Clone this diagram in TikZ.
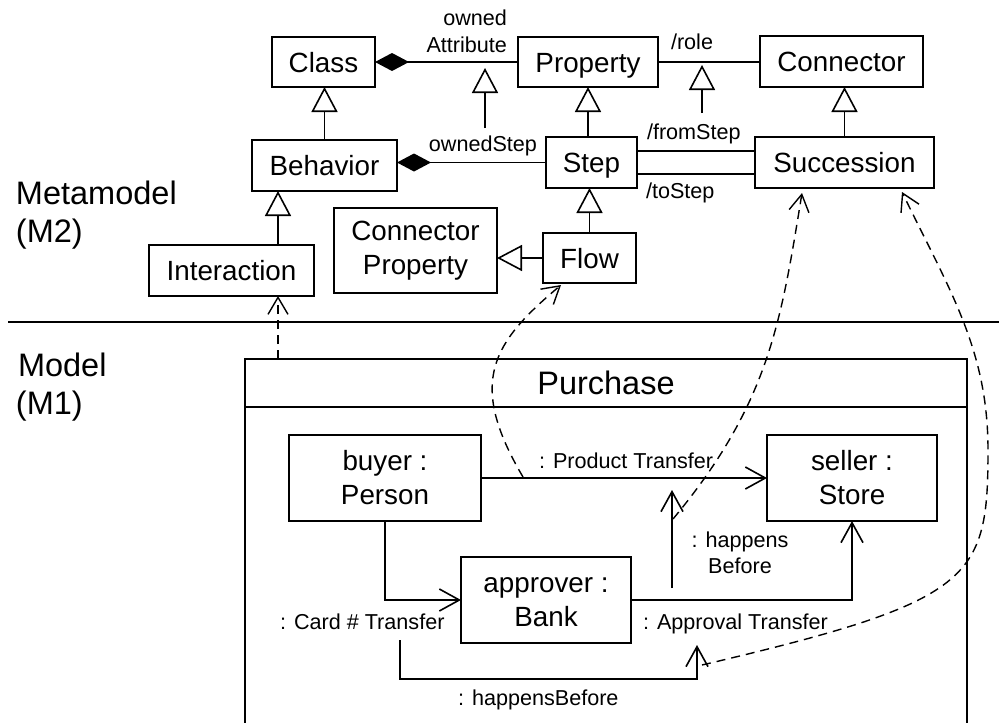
\documentclass[tikz,border=0pt]{standalone}
\usepackage{fontspec}
\setmainfont{Liberation Sans}
\usetikzlibrary{arrows.meta,calc}
\begin{document}
\begin{tikzpicture}[x=1pt,y=-1pt,
  every node/.style={inner sep=0pt, outer sep=0pt},
  cls/.style={draw, line width=1.6pt, font=\fontsize{27.8}{34}\selectfont,
              text height=20pt, text depth=0pt, align=center},
  cls2/.style={draw, line width=1.6pt, font=\fontsize{27.8}{34}\selectfont, align=center},
  lbl/.style={font=\fontsize{21.6}{26}\selectfont},
  big/.style={font=\fontsize{32.5}{38}\selectfont},
  wire/.style={line width=1.6pt},
  gen/.style={wire, -{Triangle[open, length=25pt, width=26pt, line width=1.6pt]}},
  comp/.style={wire, {Diamond[length=34pt, width=18pt]}-},
  nav/.style={wire, -{Straight Barb[length=20pt, width=22pt, line width=1.6pt]}},
  dep/.style={line width=1.4pt, dash pattern=on 9pt off 6pt,
              -{Straight Barb[length=17pt, width=20pt, line width=1.4pt]}},
]
\useasboundingbox (0,0) rectangle (999,723);

% ---------- metamodel classes ----------
\node[cls, minimum width=103, minimum height=50] (class) at (323.5,62) {Class};
\node[cls, minimum width=140, minimum height=50] (prop) at (588,62) {Property};
\node[cls, minimum width=163, minimum height=51] (conn) at (841.5,61.5) {Connector};
\node[cls, minimum width=145, minimum height=51] (behav) at (324.5,165.5) {Behavior};
\node[cls, minimum width=91, minimum height=51] (step) at (591.5,162.5) {Step};
\node[cls, minimum width=179, minimum height=51] (succ) at (844.5,162.5) {Succession};
\node[cls, minimum width=165, minimum height=51] (inter) at (231.5,270.5) {Interaction};
\node[cls2, minimum width=163, minimum height=85] (cprop) at (415.5,250.5) {\rule{0pt}{20pt}Connector\\Property};
\node[cls, minimum width=93, minimum height=50] (flow) at (589.5,258) {Flow};

% helper levels
\coordinate (yA) at (0,151);
\coordinate (yB) at (0,174);
\coordinate (gI) at (278,0);

% associations
\draw[comp] (class.east) -- (class.east -| prop.west);
\draw[wire] (prop.east) -- (prop.east -| conn.west);
\draw[comp] (behav.east |- step.west) -- (step.west);
\draw[wire] (step.east |- yA) -- (succ.west |- yA);
\draw[wire] (step.east |- yB) -- (succ.west |- yB);

% generalizations
\draw[gen] (behav.north) -- (behav.north |- class.south);
\draw[gen] (prop.south |- step.north) -- (prop.south);
\draw[gen] (flow.north) -- (flow.north |- step.south);
\draw[gen] (flow.west) -- (flow.west -| cprop.east);
\draw[gen] (succ.north) -- (succ.north |- conn.south);
\draw[gen] (gI |- inter.north) -- (gI |- behav.south);

% subsetting of association ends
\coordinate (subAa) at (485,128);
\coordinate (subAb) at (485,68);
\draw[gen] (subAa) -- (subAb);
\coordinate (subBa) at (702,113);
\coordinate (subBb) at (702,65);
\draw[gen] (subBa) -- (subBb);

% end names
\node[lbl, anchor=base east] (lOwned) at (507,25) {owned};
\node[lbl, anchor=base east] (lAttr) at (507,52) {Attribute};
\node[lbl, anchor=base east] (lOStep) at (537,151) {ownedStep};
\node[lbl, anchor=base west] (lRole) at (671,49) {/role};
\node[lbl, anchor=base west] (lFrom) at (647,139) {/fromStep};
\node[lbl, anchor=base west] (lTo) at (646,198) {/toStep};

% ---------- level separator and level names ----------
\coordinate (sepL) at (8,322);
\coordinate (sepR) at (999,322);
\draw[wire] (sepL) -- (sepR);
\node[big, anchor=base west] (mm) at (16,204) {Metamodel};
\node[big, anchor=base west] (m2) at (16,242) {(M2)};
\node[big, anchor=base west] (md) at (18,376) {Model};
\node[big, anchor=base west] (m1) at (16,414) {(M1)};

% ---------- model: Purchase ----------
\coordinate (pTL) at (245,359);
\coordinate (pTR) at (967,359);
\draw[wire] (245,724) -- (pTL) -- (pTR) -- (967,724);
\draw[wire] (245,407) -- (967,407);
\node[big] (purch) at (606,383) {Purchase};

\node[cls2, minimum width=192, minimum height=86] (buyer) at (385,478) {\rule{0pt}{20pt}buyer :\\Person};
\node[cls2, minimum width=170, minimum height=86] (seller) at (852,478) {\rule{0pt}{20pt}seller :\\Store};
\node[cls2, minimum width=170, minimum height=86] (approver) at (546,600) {\rule{0pt}{20pt}approver :\\Bank};

% flows
\draw[nav] (buyer.east) -- (buyer.east -| seller.west);
\draw[nav] (buyer.south) -- (buyer.south |- approver.west) -- (approver.west);
\draw[nav] (approver.east) -- (approver.east -| seller.south) -- (seller.south);

% successions
\coordinate (hbA) at (672,588);
\coordinate (hbB) at (672,490);
\draw[nav] (hbA) -- (hbB);
\coordinate (hbC) at (400,640);
\coordinate (hbE) at (697,679);
\coordinate (hbD) at (697,645);
\draw[nav] (hbC) |- (hbE) -- (hbD);

\node[lbl, anchor=base west] (lProd) at (539,468) {: Product Transfer};
\node[lbl, anchor=base] (lHb1) at (740,547) {: happens};
\node[lbl, anchor=base] (lHb2) at (740,573) {Before};
\node[lbl, anchor=base west] (lCard) at (280,629) {: Card \# Transfer};
\node[lbl, anchor=base west] (lAppr) at (643,629) {: Approval Transfer};
\node[lbl, anchor=base west] (lHb3) at (458,705) {: happensBefore};

% ---------- instance-of dependencies ----------
\coordinate (iA) at (278,359);
\draw[dep] (iA) -- (gI |- inter.south);
\coordinate (pf) at (523,477);
\draw[dep] (pf) .. controls (467,382) and (492,343) .. ($(flow.south west)+(18,2)$);
\coordinate (hb1) at (673,519);
\draw[dep] (hb1) .. controls (769,403.5) and (781,322) .. ($(succ.south west)+(47,5)$);
\coordinate (hbF) at (702,665);
\coordinate (hbG) at (988,450);
\draw[dep] (hbF) .. controls (974,601) and (988,580) .. (hbG)
               .. controls (988,350) and (950,291) .. ($(succ.south west)+(147,4)$);
\end{tikzpicture}
\end{document}
